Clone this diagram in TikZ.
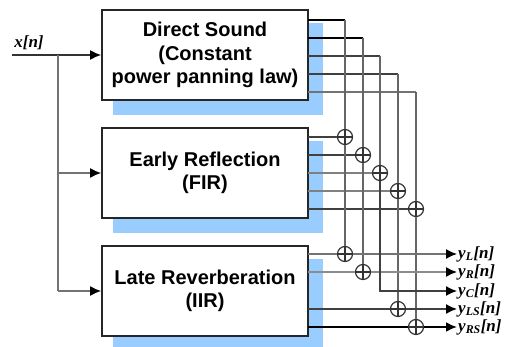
\documentclass[tikz,border=0pt]{standalone}
\usepackage{fontspec}
\setmainfont{Liberation Sans}
\newfontfamily\lblfont{Liberation Serif}
\usetikzlibrary{arrows.meta,backgrounds,calc}
\definecolor{shadowblue}{RGB}{153,204,255}
\newcommand{\outlbl}[1]{{\lblfont\bfseries\itshape y\textsubscript{#1}[n]}}
\begin{document}
\begin{tikzpicture}[x=1pt,y=-1pt,
  blk/.style={draw=black!85, line width=1.8pt, fill=white, minimum width=206pt, minimum height=90pt,
    align=center, font=\bfseries\fontsize{20}{23.5}\selectfont, inner sep=0pt},
  adder/.style={circle, draw=black!80, line width=1.2pt, fill=white, minimum size=15pt, inner sep=0pt,
    path picture={\draw[line width=1.2pt, black!80] (path picture bounding box.north) -- (path picture bounding box.south)
      (path picture bounding box.west) -- (path picture bounding box.east);}},
  sig/.style={line width=1.5pt},
  arr/.style={sig, -{Latex[length=11pt,width=10pt,color=black]}},
  lbl/.style={font=\fontsize{17}{17}\selectfont, inner sep=1pt},
  ]
\useasboundingbox (0,0) rectangle (505,347);
% blocks
\node[blk] (d) at (205,55) {Direct Sound\\(Constant\\power panning law)};
\node[blk] (e) at (205,173) {Early Reflection\\(FIR)};
\node[blk] (l) at (205,291) {Late Reverberation\\(IIR)};
\begin{scope}[on background layer]
  \fill[shadowblue] ($(d.south west)+(12,14)$) rectangle ($(d.north east)+(14,14)$);
  \fill[shadowblue] ($(e.south west)+(12,14)$) rectangle ($(e.north east)+(14,14)$);
  \fill[shadowblue] ($(l.south west)+(12,14)$) rectangle ($(l.north east)+(14,14)$);
\end{scope}
% input
\node[lbl] (xin) at (29,43) {\lblfont\bfseries\itshape x[n]};
\coordinate (in) at (12,55);
\coordinate (j1) at (58,55);
\coordinate (j2) at (58,173);
\coordinate (j3) at (58,291);
\draw[arr, black!80] (in) -- (d.west);
\draw[sig, black!55] (j1) -- (j3);
\draw[arr, black!55] (j2) -- (e.west);
\draw[arr, black!55] (j3) -- (l.west);
% adders
\node[adder] (a21) at (345,137) {};
\node[adder] (a22) at (363,155) {};
\node[adder] (a23) at (380,173) {};
\node[adder] (a24) at (398,191) {};
\node[adder] (a25) at (416,209) {};
\node[adder] (a31) at (345,254) {};
\node[adder] (a32) at (363,272) {};
\node[adder] (a34) at (398,309) {};
\node[adder] (a35) at (416,327) {};
% direct sound outputs
\coordinate (d1) at (308,20); \coordinate (c1) at (345,20);
\coordinate (d2) at (308,38); \coordinate (c2) at (363,38);
\coordinate (d3) at (308,56); \coordinate (c3) at (380,56);
\coordinate (d4) at (308,74); \coordinate (c4) at (398,74);
\coordinate (d5) at (308,92); \coordinate (c5) at (416,92);
\draw[sig, black, line width=2pt] (d1) -- (c1);
\draw[sig, black] (d2) -- (c2);
\draw[sig, black!75] (d3) -- (c3);
\draw[sig, black!75] (d4) -- (c4);
\draw[sig, black!55] (d5) -- (c5);
\draw[sig, black!60] (c1) -- (a21) (c2) -- (a22) (c3) -- (a23) (c4) -- (a24) (c5) -- (a25);
% early reflection outputs
\coordinate (e1) at (308,137);
\coordinate (e2) at (308,155);
\coordinate (e3) at (308,173);
\coordinate (e4) at (308,191);
\coordinate (e5) at (308,209);
\draw[sig, black!75] (e1) -- (a21);
\draw[sig, black!75] (e2) -- (a22);
\draw[sig, black!50] (e3) -- (a23);
\draw[sig, black!50] (e4) -- (a24);
\draw[sig, black!75] (e5) -- (a25);
\draw[sig, black!60] (a21) -- (a31) (a22) -- (a32) (a24) -- (a34) (a25) -- (a35);
% late reverberation outputs
\coordinate (l1) at (308,254);
\coordinate (l2) at (308,272);
\coordinate (l4) at (308,309);
\coordinate (l5) at (308,327);
\coordinate (oL) at (457,254);
\coordinate (oR) at (457,272);
\coordinate (oC) at (457,291);
\coordinate (oLS) at (457,309);
\coordinate (oRS) at (457,327);
\draw[sig, black!55] (l1) -- (a31);
\draw[sig, black!45] (l2) -- (a32);
\draw[sig, black!75] (l4) -- (a34);
\draw[sig, black, line width=2pt] (l5) -- (a35);
\draw[arr, black!55] (a31) -- (oL);
\draw[arr, black!45] (a32) -- (oR);
\draw[arr, black!75, line width=1.3pt] (a23) |- (oC);
\draw[arr, black!75] (a34) -- (oLS);
\draw[arr, black, line width=2pt] (a35) -- (oRS);
% output labels
\node[lbl, anchor=west] (yL) at (oL) {\outlbl{L}};
\node[lbl, anchor=west] (yR) at (oR) {\outlbl{R}};
\node[lbl, anchor=west] (yC) at (oC) {\outlbl{C}};
\node[lbl, anchor=west] (yLS) at (oLS) {\outlbl{LS}};
\node[lbl, anchor=west] (yRS) at (oRS) {\outlbl{RS}};
\end{tikzpicture}
\end{document}
